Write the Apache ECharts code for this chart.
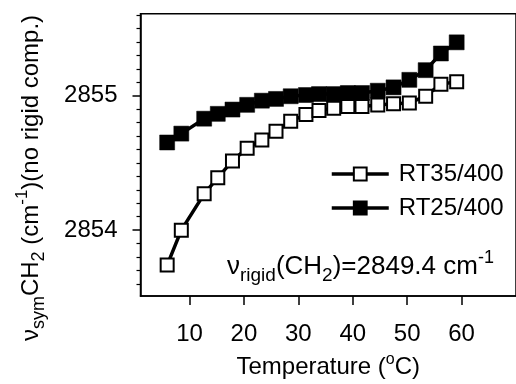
<!DOCTYPE html>
<html><head><meta charset="utf-8">
<script src="https://cdn.jsdelivr.net/npm/echarts@6/dist/echarts.min.js"></script>
<style>html,body{margin:0;padding:0;background:#fff}#c{width:516px;height:384px}</style>
</head><body><div id="c"></div>
<script>
const temps = [5.9, 8.5, 12.7, 15.2, 17.9, 20.6, 23.3, 25.9, 28.6, 31.4, 33.8, 36.5, 39.1, 41.7, 44.6, 47.5, 50.4, 53.4, 56.2, 59.1];
const rt35 = [2853.74, 2854.00, 2854.27, 2854.39, 2854.515, 2854.61, 2854.67, 2854.735, 2854.81, 2854.86, 2854.89, 2854.907, 2854.92, 2854.92, 2854.93, 2854.94, 2854.946, 2854.996, 2855.086, 2855.103];
const rt25 = [2854.652, 2854.718, 2854.829, 2854.865, 2854.897, 2854.932, 2854.963, 2854.976, 2854.996, 2855.005, 2855.012, 2855.012, 2855.02, 2855.02, 2855.037, 2855.062, 2855.118, 2855.19, 2855.314, 2855.397];
const xTickValues = [10, 20, 30, 40, 50, 60];
const yLabelValues = [2854, 2855];
const yMinorTicks = [2853.6, 2853.7, 2853.8, 2853.9, 2854.1, 2854.2, 2854.3, 2854.4, 2854.5, 2854.6, 2854.7, 2854.8, 2854.9, 2855.1, 2855.2, 2855.3, 2855.4, 2855.5, 2855.6];
const seriesNames = ['RT35/400', 'RT25/400'];

const FONT = 'Liberation Sans, Arial, sans-serif';
const chart = echarts.init(document.getElementById('c'), null, {renderer: 'canvas'});
const richStyles = {
  m: {fontSize: 24, fontFamily: FONT, color: '#000', lineHeight: 34, verticalAlign: 'middle'},
  sub: {fontSize: 18, fontFamily: FONT, color: '#000', lineHeight: 12, verticalAlign: 'bottom'},
  sup: {fontSize: 17, fontFamily: FONT, color: '#000', lineHeight: 23, verticalAlign: 'top'}
};
const richNote = {
  m: {fontSize: 26, fontFamily: FONT, color: '#000', lineHeight: 36, verticalAlign: 'middle'},
  sub: {fontSize: 19, fontFamily: FONT, color: '#000', lineHeight: 12, verticalAlign: 'bottom'},
  sup: {fontSize: 18, fontFamily: FONT, color: '#000', lineHeight: 24, verticalAlign: 'top'}
};
const YMIN = 2853.51, YMAX = 2855.61;
chart.setOption({
  animation: false,
  backgroundColor: '#fff',
  grid: {left: 140.5, top: 13.7, width: 383.4, height: 285.6, show: true, borderColor: '#000', borderWidth: 1.5},
  xAxis: {
    type: 'value', min: 1, max: 70,
    name: '{m|Temperature (}{o|o}{m|C)}', nameLocation: 'middle', nameGap: 56,
    nameTextStyle: {fontSize: 24, fontFamily: FONT, color: '#000', rich: {
      m: {fontSize: 24, fontFamily: FONT, color: '#000', lineHeight: 30, verticalAlign: 'middle'},
      o: {fontSize: 16, fontFamily: FONT, color: '#000', lineHeight: 26, verticalAlign: 'top'}
    }},
    axisLine: {lineStyle: {color: '#000', width: 1.5}},
    axisTick: {show: true, length: 9, lineStyle: {color: '#000', width: 1.5}, customValues: xTickValues},
    axisLabel: {fontSize: 24, fontFamily: FONT, color: '#000', margin: 26, customValues: xTickValues},
    splitLine: {show: false}
  },
  yAxis: [{
    type: 'value', min: YMIN, max: YMAX, position: 'left',
    axisLine: {lineStyle: {color: '#000', width: 1.5}},
    axisTick: {show: true, length: 8, lineStyle: {color: '#000', width: 1.5}, customValues: yLabelValues},
    axisLabel: {fontSize: 24, fontFamily: FONT, color: '#000', margin: 23, customValues: yLabelValues,
      formatter: v => String(Math.round(v))},
    splitLine: {show: false}
  }, {
    type: 'value', min: YMIN, max: YMAX, position: 'left',
    axisLine: {show: false},
    axisTick: {show: true, length: 4, lineStyle: {color: '#000', width: 1.2}, customValues: yMinorTicks},
    axisLabel: {show: false},
    splitLine: {show: false}
  }],
  legend: {
    orient: 'vertical', left: 325, top: 157, itemWidth: 57, itemHeight: 16, itemGap: 10,
    data: seriesNames,
    lineStyle: {width: 3.5},
    textStyle: {fontSize: 24, fontFamily: FONT, color: '#000', padding: [0, 0, 0, 5]}
  },
  series: [{
    name: seriesNames[1], type: 'line', symbol: 'rect', symbolSize: 15,
    data: temps.map((t, i) => [t, rt25[i]]),
    lineStyle: {color: '#000', width: 3.5},
    itemStyle: {color: '#000', borderColor: '#000', borderWidth: 0.5}
  }, {
    name: seriesNames[0], type: 'line', symbol: 'rect', symbolSize: 13,
    data: temps.map((t, i) => [t, rt35[i]]),
    lineStyle: {color: '#000', width: 3.5},
    itemStyle: {color: '#fff', borderColor: '#000', borderWidth: 2}
  }],
  graphic: [{
    type: 'text', rotation: Math.PI / 2,
    x: 31, y: 178,
    style: {
      text: '{m|ν}{sub|sym}{m|CH}{sub|2}{m| (cm}{sup|-1}{m|)(no rigid comp.)}',
      rich: richStyles, align: 'center', verticalAlign: 'middle'
    }
  }, {
    type: 'text', left: 227, top: 249,
    style: {
      text: '{m|ν}{sub|rigid}{m|(CH}{sub|2}{m|)=2849.4 cm}{sup|-1}',
      rich: richNote
    }
  }]
});
</script></body></html>
